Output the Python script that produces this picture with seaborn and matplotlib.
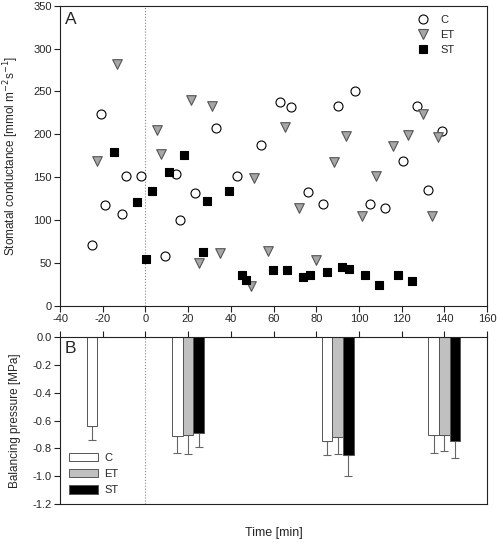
import numpy as np
import pandas as pd
import seaborn as sns
import matplotlib
matplotlib.use("Agg")
from matplotlib import pyplot as plt
from matplotlib.patches import Patch
from matplotlib.lines import Line2D

sns.set_style("white")
plt.rcParams["font.family"] = ["Liberation Sans", "DejaVu Sans"]
plt.rcParams["axes.unicode_minus"] = False

# panel A: stomatal conductance
c_time = [-25.2, -18.9, -20.9, -10.8, -9.1, -1.9, 9.0, 14.2, 16.2, 23.4, 33.1, 42.9, 54.1,
          63.0, 68.0, 76.2, 83.0, 90.1, 98.0, 105.2, 112.1, 120.8, 127.1, 132.2, 138.9]
c_val = [70.5, 117.5, 223.7, 106.6, 151.7, 151.7, 58.3, 153.7, 100, 131.5, 207.4, 151.3, 187.9,
         238, 232.2, 132.7, 118.7, 233.4, 250.2, 118.7, 114.4, 168.5, 232.7, 135.4, 203.9]
et_time = [-22.8, -13.2, 5.3, 7.2, 21.2, 25.2, 31.2, 34.9, 49.3, 50.9, 57.3, 65.2, 72.1,
           80.0, 88.3, 94.1, 101.3, 108.2, 116.1, 123.1, 130.0, 134.2, 137.2]
et_val = [168.5, 282, 205, 177.4, 240, 50.2, 233.4, 61.5, 23.3, 149.5, 63.8, 208.2, 113.6,
          53, 167.3, 197.6, 104.3, 151.3, 186.7, 199.5, 224, 104.3, 197.2]
st_time = [-14.9, -4.1, 0.1, 3.2, 11.0, 18.1, 27.0, 29.0, 39.2, 45.1, 47.3, 59.9, 66.2,
           74.0, 77.1, 85.2, 92.2, 95.2, 103.0, 109.4, 118.2, 125.0]
st_val = [179.3, 120.6, 54.5, 133.5, 155.7, 175.5, 62.7, 122.5, 133.5, 35.5, 30, 41.3, 41.3,
          33.5, 36.2, 39.3, 45.2, 43.2, 35.5, 24.5, 36.2, 28.5]

# panel B: balancing pressure
bp_time = [-20, 20, 90, 140]
bp_c = [-0.64, -0.71, -0.75, -0.70]
bp_c_err = [0.10, 0.12, 0.10, 0.13]
bp_et = [np.nan, -0.70, -0.72, -0.705]
bp_et_err = [np.nan, 0.14, 0.12, 0.11]
bp_st = [np.nan, -0.69, -0.85, -0.75]
bp_st_err = [np.nan, 0.10, 0.15, 0.12]
bp_ticks = [-1.2, -1.0, -0.8, -0.6, -0.4, -0.2, 0.0]
bp_ticklabels = ["-1.2", "-1.0", "-0.8", "-0.6", "-0.4", "-0.2", "0.0"]

gs = pd.concat([
    pd.DataFrame({"time": c_time, "gs": c_val, "trt": "C"}),
    pd.DataFrame({"time": et_time, "gs": et_val, "trt": "ET"}),
    pd.DataFrame({"time": st_time, "gs": st_val, "trt": "ST"}),
])

fig = plt.figure(figsize=(4.98, 5.43), dpi=100)
W, H = 498, 543
axA = fig.add_axes([60 / W, 1 - 305.7 / H, 427 / W, 300 / H])
axB = fig.add_axes([60 / W, 1 - 504 / H, 427 / W, 166.7 / H])

style = {
    "C": dict(marker="o", facecolor="white", edgecolor="black", s=42),
    "ET": dict(marker="v", facecolor="#a6a6a6", edgecolor="#555555", s=48),
    "ST": dict(marker="s", facecolor="black", edgecolor="black", s=30),
}
for trt, kw in style.items():
    sns.scatterplot(data=gs[gs["trt"] == trt], x="time", y="gs", ax=axA,
                    marker=kw["marker"], color=kw["facecolor"],
                    edgecolor=kw["edgecolor"], s=kw["s"], linewidth=0.8, zorder=3)

axA.axvline(0, color="#888888", ls=":", lw=0.8, zorder=1)
axA.set_xlim(-40, 160)
axA.set_ylim(0, 350)
axA.set_xticks(range(-40, 161, 20))
axA.set_yticks(range(0, 351, 50))
axA.set_xlabel("")
axA.set_ylabel("Stomatal conductance [mmol m$^{-2}$s$^{-1}$]", fontsize=8.5)
axA.yaxis.set_label_coords(-0.092, 0.5)
axA.text(0.012, 0.978, "A", transform=axA.transAxes, fontsize=12.5, va="top", ha="left")

handlesA = [Line2D([], [], ls="", marker=kw["marker"], markerfacecolor=kw["facecolor"],
                   markeredgecolor=kw["edgecolor"], markersize=np.sqrt(kw["s"]), markeredgewidth=0.8)
            for kw in style.values()]
axA.legend(handlesA, list(style.keys()), loc="upper right", frameon=False, fontsize=8,
           bbox_to_anchor=(0.94, 0.99), handletextpad=0.6, labelspacing=0.45,
           borderaxespad=0.2)

# bars
wid = 5
for vals, errs, off, fc in [(bp_c, bp_c_err, -wid, "white"),
                            (bp_et, bp_et_err, 0, "#c0c0c0"),
                            (bp_st, bp_st_err, wid, "black")]:
    x = np.array(bp_time, dtype=float) + off
    v = np.array(vals)
    e = np.array(errs)
    ok = ~np.isnan(v)
    axB.bar(x[ok], v[ok], width=wid, color=fc, edgecolor="#555555", linewidth=0.7, zorder=2)
    axB.errorbar(x[ok], v[ok], yerr=[e[ok], np.zeros(ok.sum())], fmt="none",
                 ecolor="#666666", elinewidth=0.8, capsize=3.2, capthick=0.8, zorder=1)

axB.axvline(0, color="#888888", ls=":", lw=0.8, zorder=0)
axB.set_xlim(-40, 160)
axB.set_ylim(-1.2, 0)
axB.set_xticks(range(-40, 161, 20))
axB.set_yticks(bp_ticks)
axB.set_yticklabels(bp_ticklabels)
axB.xaxis.tick_top()
axB.tick_params(axis="x", labeltop=False, labelbottom=False)
axB.set_ylabel("Balancing pressure [MPa]", fontsize=8.5)
axB.yaxis.set_label_coords(-0.092, 0.5)
axB.text(0.012, 0.975, "B", transform=axB.transAxes, fontsize=12.5, va="top", ha="left")

handlesB = [Patch(facecolor=fc, edgecolor="#555555", linewidth=0.7)
            for fc in ["white", "#c0c0c0", "black"]]
axB.legend(handlesB, ["C", "ET", "ST"], loc="lower left", frameon=False, fontsize=8,
           bbox_to_anchor=(0.0, 0.0), handlelength=2.6, handleheight=0.8,
           handletextpad=0.6, labelspacing=0.55, borderaxespad=0.4)

for ax in (axA, axB):
    for sp in ax.spines.values():
        sp.set_color("#222222")
        sp.set_linewidth(0.8)
    ax.tick_params(direction="out", length=4, width=0.8, color="#222222",
                   labelsize=8, pad=2)
    ax.tick_params(axis="x", which="both", bottom=(ax is axA), top=(ax is axB))
    ax.tick_params(axis="y", left=True)

fig.text(273.5 / W, 1 - 533 / H, "Time [min]", ha="center", va="center", fontsize=9)

fig.savefig("out.png", dpi=100)
